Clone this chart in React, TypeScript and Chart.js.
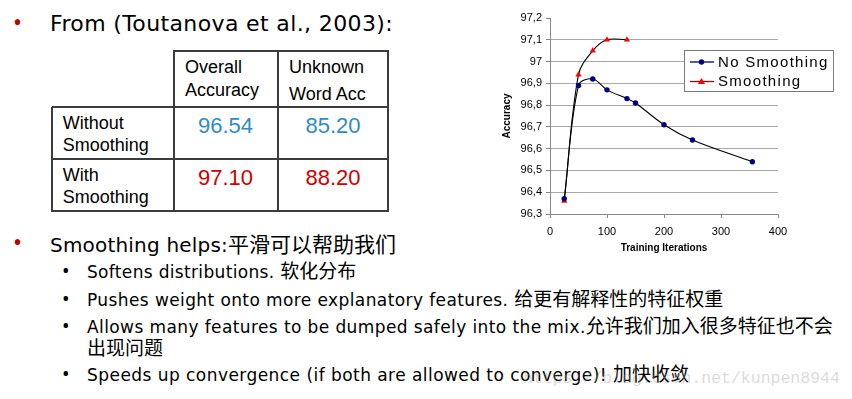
import React, { useEffect, useRef } from "react";
import { Chart, registerables } from "chart.js";

Chart.register(...registerables);

// ---- chart data ----
const iterNoSmooth = [25, 50, 75, 100, 135, 150, 200, 250, 355];
const accNoSmooth = [96.37, 96.89, 96.92, 96.87, 96.83, 96.81, 96.71, 96.64, 96.54];
const iterSmooth = [25, 50, 75, 100, 135];
const accSmooth = [96.36, 96.94, 97.05, 97.1, 97.1];
const seriesLabels = ["No Smoothing", "Smoothing"];
const yMin = 96.3;
const yMax = 97.2;
const xMin = 0;
const xMax = 400;

// ---- table data ----
const colHeaders = [["Overall", "Accuracy"], ["Unknown", "Word Acc"]];
const rowHeaders = [["Without", "Smoothing"], ["With", "Smoothing"]];
const tableValues = [["96.54", "85.20"], ["97.10", "88.20"]];

// ---- slide text ----
const headline = "From (Toutanova et al., 2003):";
const mainPoint = "Smoothing helps:平滑可以帮助我们";
const subPoints = [
  ["Softens distributions. 软化分布"],
  ["Pushes weight onto more explanatory features. 给更有解释性的特征权重"],
  ["Allows many features to be dumped safely into the mix.允许我们加入很多特征也不会", "出现问题"],
  ["Speeds up convergence (if both are allowed to converge)! 加快收敛"],
];
const watermark = "https://blog.csdn.net/kunpen8944";

const SANS = '"Noto Sans", "Noto Sans CJK SC", sans-serif';
const DEJA = '"DejaVu Sans", "Noto Sans CJK SC", sans-serif';
const CJK = '"Noto Sans CJK SC", sans-serif';
const ARIAL = '"Liberation Sans", Arial, sans-serif';

const legendPlugin = {
  id: "boxLegend",
  afterDraw(chart: any) {
    const ctx = chart.ctx;
    const bx = 194, by = 50, bw = 149, bh = 41;
    ctx.save();
    ctx.fillStyle = "#fff";
    ctx.fillRect(bx, by, bw, bh);
    ctx.strokeStyle = "#7a7a7a";
    ctx.lineWidth = 1;
    ctx.strokeRect(bx + 0.5, by + 0.5, bw, bh);
    const rows = [62, 81.5];
    const lineCols = ["#000080", "#8a1010"];
    chart.data.datasets.forEach((ds: any, i: number) => {
      const y = rows[i];
      ctx.strokeStyle = lineCols[i];
      ctx.lineWidth = 1.3;
      ctx.beginPath();
      ctx.moveTo(200, y);
      ctx.lineTo(224, y);
      ctx.stroke();
      ctx.fillStyle = ds.pointBackgroundColor;
      ctx.beginPath();
      if (ds.pointStyle === "triangle") {
        const r = 3.6;
        ctx.moveTo(211.5, y - r);
        ctx.lineTo(211.5 + r, y + r * 0.7);
        ctx.lineTo(211.5 - r, y + r * 0.7);
        ctx.closePath();
      } else {
        ctx.arc(211.5, y, 2.7, 0, Math.PI * 2);
      }
      ctx.fill();
      ctx.fillStyle = "#000";
      ctx.font = `15px ${ARIAL}`;
      (ctx as any).letterSpacing = "1.3px";
      ctx.textBaseline = "middle";
      ctx.textAlign = "left";
      ctx.fillText(ds.label, 228, y + 0.5);
      (ctx as any).letterSpacing = "0px";
    });
    ctx.restore();
  },
};

function AccuracyChart() {
  const ref = useRef<HTMLCanvasElement | null>(null);
  useEffect(() => {
    if (!ref.current) return;
    Chart.defaults.font.family = ARIAL;
    const chart = new Chart(ref.current, {
      type: "line",
      data: {
        datasets: [
          {
            label: seriesLabels[0],
            data: iterNoSmooth.map((x, i) => ({ x, y: accNoSmooth[i] })),
            borderColor: "#000",
            borderWidth: 1.1,
            tension: 0.35,
            pointStyle: "circle",
            pointRadius: 2.7,
            pointBackgroundColor: "#000080",
            pointBorderColor: "#000080",
            pointBorderWidth: 0,
          },
          {
            label: seriesLabels[1],
            data: iterSmooth.map((x, i) => ({ x, y: accSmooth[i] })),
            borderColor: "#000",
            borderWidth: 1.1,
            tension: 0.35,
            pointStyle: "triangle",
            pointRadius: 3.6,
            pointBackgroundColor: "#ff0000",
            pointBorderColor: "#ff0000",
            pointBorderWidth: 0,
          },
        ],
      },
      options: {
        animation: false,
        responsive: false,
        maintainAspectRatio: false,
        layout: { padding: { left: 0, top: 18, right: 74, bottom: 0 } },
        plugins: { legend: { display: false }, tooltip: { enabled: false } },
        scales: {
          x: {
            type: "linear",
            min: xMin,
            max: xMax,
            ticks: { stepSize: 100, color: "#000", font: { size: 11 }, padding: 7, maxRotation: 0 },
            grid: { drawOnChartArea: false, tickLength: 4, tickColor: "#888" },
            border: { color: "#888" },
            title: {
              display: true,
              text: "Training Iterations",
              color: "#000",
              font: { size: 10, weight: "bold" },
              padding: { top: 0, bottom: 6 },
            },
            afterFit: (s: any) => {
              s.height = 46;
            },
          },
          y: {
            type: "linear",
            min: yMin,
            max: yMax,
            ticks: {
              stepSize: 0.1,
              color: "#000",
              font: { size: 11 },
              padding: 4,
              callback: (v: any) => {
                const r = Math.round(Number(v) * 10) / 10;
                return (Number.isInteger(r) ? String(r) : r.toFixed(1)).replace(".", ",");
              },
            },
            grid: {
              tickLength: 4,
              tickColor: "#888",
              lineWidth: 1,
              color: (c: any) =>
                c.tick && Math.abs(c.tick.value - yMax) < 1e-6 ? "rgba(0,0,0,0)" : "#a8a8a8",
            },
            border: { color: "#888" },
            title: {
              display: true,
              text: "Accuracy",
              color: "#000",
              font: { size: 10, weight: "bold" },
              padding: { top: 11, bottom: 0 },
            },
            afterFit: (s: any) => {
              s.width = 60;
            },
          },
        },
      },
      plugins: [legendPlugin],
    } as any);
    return () => chart.destroy();
  }, []);
  return (
    <canvas
      ref={ref}
      width={362}
      height={260}
      style={{ position: "absolute", left: 490, top: 0, width: 362, height: 260 }}
    />
  );
}

// Latin runs get a little letter spacing, CJK runs a slightly larger size
function mixed(text: string, ls: number, cjkSize: number) {
  const parts = text.split(/([\u3000-\u9fff\uff00-\uffef]+)/);
  return parts
    .filter((p) => p.length > 0)
    .map((p, i) =>
      /[\u3000-\u9fff\uff00-\uffef]/.test(p) ? (
        <span
          key={i}
          style={{ letterSpacing: 0, fontFamily: CJK, fontSize: cjkSize, lineHeight: 0 }}
        >
          {p}
        </span>
      ) : (
        <span key={i} style={{ letterSpacing: ls }}>{p}</span>
      )
    );
}

function Txt(props: {
  x: number;
  base: number;
  size: number;
  k?: number;
  font?: string;
  color?: string;
  children: React.ReactNode;
  center?: boolean;
  style?: React.CSSProperties;
}) {
  const k = props.k ?? 0.888;
  const top = props.base - k * props.size;
  const st: React.CSSProperties = {
    position: "absolute",
    top,
    fontFamily: props.font ?? SANS,
    fontSize: props.size,
    lineHeight: `${props.size}px`,
    color: props.color ?? "#000",
    whiteSpace: "nowrap",
    ...props.style,
  };
  if (props.center) {
    st.left = props.x - 100;
    st.width = 200;
    st.textAlign = "center";
  } else {
    st.left = props.x;
  }
  return <div style={st}>{props.children}</div>;
}

function Line(props: { x1: number; y1: number; x2: number; y2: number }) {
  const w = 2;
  const horiz = props.y1 === props.y2;
  return (
    <div
      style={{
        position: "absolute",
        left: horiz ? props.x1 : props.x1 - w / 2,
        top: horiz ? props.y1 - w / 2 : props.y1,
        width: horiz ? props.x2 - props.x1 : w,
        height: horiz ? w : props.y2 - props.y1,
        background: "#3c3c3c",
      }}
    />
  );
}

export default function App() {
  const colX = [51.7, 174.3, 278.3, 388.3];
  const rowY = [50.7, 107.3, 159.3, 211];
  const valueColors = ["#2e8bc8", "#d00000"];
  const colCenters = [225.5, 333];
  const valueBase = [134, 185.7];
  const AK = 0.8465;
  const DK = 0.846;
  const subSpacing = [0.33, 0.4, 0.4, 0.45];
  return (
    <div
      style={{
        position: "fixed",
        left: 0,
        top: 0,
        width: 852,
        height: 399,
        background: "#fff",
        overflow: "hidden",
      }}
    >
      {/* headline */}
      <Txt x={13} base={31.5} size={24} color="#c00000">•</Txt>
      <Txt x={50} base={31.7} size={22} k={DK} font={DEJA} style={{ letterSpacing: 0.37 }}>{headline}</Txt>

      {/* table lines */}
      <Line x1={colX[1]} y1={rowY[0]} x2={colX[3]} y2={rowY[0]} />
      {[1, 2, 3].map((r) => (
        <Line key={"h" + r} x1={colX[0]} y1={rowY[r]} x2={colX[3] + 1} y2={rowY[r]} />
      ))}
      <Line x1={colX[0]} y1={rowY[1]} x2={colX[0]} y2={rowY[3] + 1} />
      {[1, 2, 3].map((c) => (
        <Line key={"v" + c} x1={colX[c]} y1={rowY[0] - 1} x2={colX[c]} y2={rowY[3] + 1} />
      ))}

      {/* table headers */}
      <Txt x={185} base={73} size={18} k={AK} font={ARIAL}>{colHeaders[0][0]}</Txt>
      <Txt x={185} base={96} size={18} k={AK} font={ARIAL}>{colHeaders[0][1]}</Txt>
      <Txt x={289} base={73.3} size={18} k={AK} font={ARIAL}>{colHeaders[1][0]}</Txt>
      <Txt x={289} base={100} size={18} k={AK} font={ARIAL}>{colHeaders[1][1]}</Txt>
      <Txt x={62.7} base={129.3} size={18} k={AK} font={ARIAL}>{rowHeaders[0][0]}</Txt>
      <Txt x={62.7} base={151.7} size={18} k={AK} font={ARIAL}>{rowHeaders[0][1]}</Txt>
      <Txt x={62.7} base={181} size={18} k={AK} font={ARIAL}>{rowHeaders[1][0]}</Txt>
      <Txt x={62.7} base={203.5} size={18} k={AK} font={ARIAL}>{rowHeaders[1][1]}</Txt>

      {tableValues.map((row, r) =>
        row.map((v, c) => (
          <Txt
            key={r + "-" + c}
            x={colCenters[c]}
            base={valueBase[r]}
            size={22}
            k={AK}
            font={ARIAL}
            color={valueColors[r]}
            center
          >
            {v}
          </Txt>
        ))
      )}

      {/* bottom bullets */}
      <Txt x={13} base={251.5} size={24} color="#c00000">•</Txt>
      <Txt x={50} base={251.7} size={20} k={DK} font={DEJA}>{mixed(mainPoint, 0.2, 21)}</Txt>
      {(() => {
        const bases = [278.3, 306, 333.3, 381.7];
        return subPoints.map((lines, i) => (
          <React.Fragment key={i}>
            <Txt x={62} base={bases[i] + 0.5} size={20}>•</Txt>
            {lines.map((l, j) => (
              <Txt key={j} x={87} base={bases[i] + j * 22} size={17} k={DK} font={DEJA}>
                {mixed(l, subSpacing[i], 19)}
              </Txt>
            ))}
          </React.Fragment>
        ));
      })()}

      {/* watermark */}
      <Txt x={523} base={385} size={16.5} k={0.83} font={'"Liberation Mono", monospace'} color="rgba(160,160,160,0.4)">
        {watermark}
      </Txt>

      <AccuracyChart />
    </div>
  );
}
